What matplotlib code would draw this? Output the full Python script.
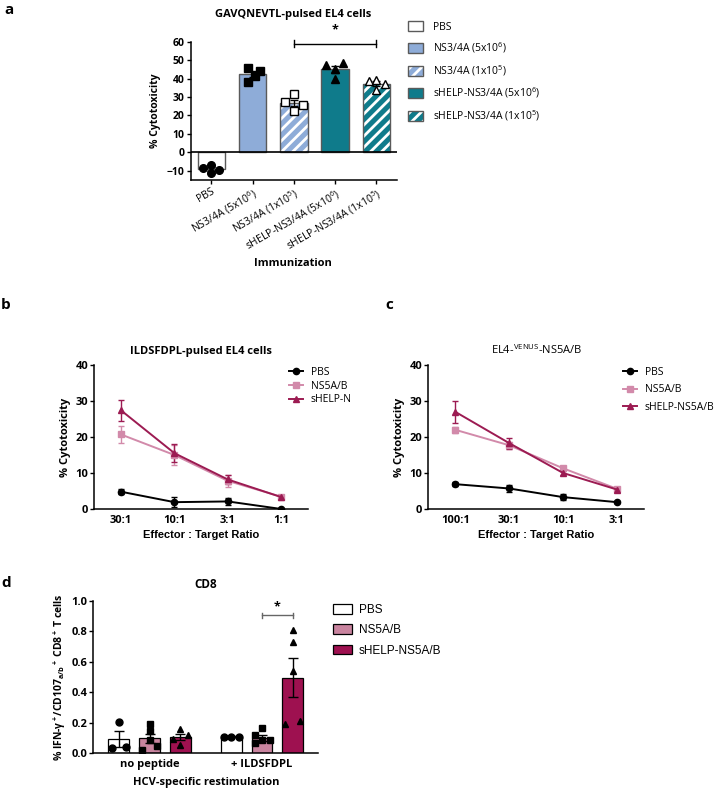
import numpy as np
import matplotlib.pyplot as plt
from matplotlib.patches import Patch
from matplotlib.lines import Line2D

plt.rcParams['font.family'] = ['Open Sans', 'DejaVu Sans']
plt.rcParams['mathtext.fontset'] = 'custom'
plt.rcParams['mathtext.rm'] = 'Open Sans'
plt.rcParams['mathtext.it'] = 'Open Sans:italic'
plt.rcParams['mathtext.bf'] = 'Open Sans:bold'
plt.rcParams['mathtext.default'] = 'regular'
plt.rcParams['hatch.linewidth'] = 2.0

# ---- data: panel a (GAVQNEVTL-pulsed EL4 cells) ----
a_groups = ['PBS', 'NS3/4A (5x10$^6$)', 'NS3/4A (1x10$^5$)',
            'sHELP-NS3/4A (5x10$^6$)', 'sHELP-NS3/4A (1x10$^5$)']
a_means = [-9.2, 42.4, 26.7, 45.1, 37.3]
a_sem = [1.0, 1.5, 1.8, 1.9, 1.2]
a_points = [[-8.7, -6.9, -11.4, -9.6],
            [45.6, 44.3, 41.5, 38.4],
            [31.5, 27.2, 25.7, 22.6],
            [47.1, 48.4, 45.1, 39.7],
            [38.8, 39.3, 37.1, 33.9]]

# ---- data: panel b (ILDSFDPL-pulsed EL4 cells) ----
b_ratios = ['30:1', '10:1', '3:1', '1:1']
b_pbs = [4.8, 1.9, 2.1, 0.0]
b_pbs_err = [0.7, 1.3, 0.9, 0.0]
b_ns5 = [20.7, 15.0, 7.8, 3.4]
b_ns5_err = [2.4, 2.7, 1.7, 0.3]
b_shelp = [27.4, 15.5, 8.2, 3.3]
b_shelp_err = [3.0, 2.5, 1.2, 0.3]

# ---- data: panel c (EL4-VENUS-NS5A/B) ----
c_ratios = ['100:1', '30:1', '10:1', '3:1']
c_pbs = [6.9, 5.7, 3.3, 1.9]
c_pbs_err = [0.6, 1.0, 0.8, 0.2]
c_ns5 = [22.0, 17.7, 11.3, 5.6]
c_ns5_err = [0.9, 1.0, 0.6, 0.5]
c_shelp = [27.0, 18.3, 10.0, 5.4]
c_shelp_err = [3.0, 1.5, 0.6, 0.3]

# ---- data: panel d (CD8) ----
d_groups = ['no peptide', '+ ILDSFDPL']
d_series = ['PBS', 'NS5A/B', 'sHELP-NS5A/B']
d_pbs = [0.094, 0.108]
d_pbs_sem = [0.053, 0.003]
d_ns5 = [0.100, 0.100]
d_ns5_sem = [0.030, 0.020]
d_shelp = [0.107, 0.496]
d_shelp_sem = [0.022, 0.128]
d_pbs_pts = [[0.204, 0.033, 0.044], [0.107, 0.110, 0.107]]
d_ns5_pts = [[0.195, 0.147, 0.022, 0.050, 0.088], [0.164, 0.120, 0.065, 0.090, 0.085]]
d_shelp_pts = [[0.160, 0.120, 0.092, 0.055], [0.81, 0.73, 0.54, 0.19, 0.21]]

W, H = 718, 790
fig = plt.figure(figsize=(W / 100, H / 100), dpi=100)


def box(l, t, r, b):
    return [l / W, 1 - b / H, (r - l) / W, (b - t) / H]


def ftext(x, y, s, **kw):
    fig.text(x / W, 1 - y / H, s, ha=kw.pop('ha', 'center'), va=kw.pop('va', 'center'), **kw)


def style(ax, size=7.5):
    for s in ['top', 'right']:
        ax.spines[s].set_visible(False)
    for s in ['left', 'bottom']:
        ax.spines[s].set_linewidth(1.1)
    ax.tick_params(direction='out', length=3, width=1, labelsize=size, pad=1.5)
    for t in ax.get_yticklabels():
        t.set_fontweight('bold')


# panel labels
ftext(9, 10, 'a', fontsize=11, fontweight='bold')
ftext(6, 305, 'b', fontsize=11, fontweight='bold')
ftext(389, 305, 'c', fontsize=11, fontweight='bold')
ftext(6, 583, 'd', fontsize=11, fontweight='bold')

# ================= panel a =================
ax = fig.add_axes(box(190.7, 41.7, 397, 180))
blue, teal = '#8eacd8', '#0f7b8b'
a_fc = ['white', blue, blue, teal, teal]
a_hatch = [None, None, '///', None, '///']
a_mk = ['o', 's', 's', '^', '^']
a_mfc = ['k', 'k', 'white', 'k', 'white']
a_jit = [[-0.19, 0, 0, 0.19], [-0.1, 0.18, 0.06, -0.1], [0, -0.22, 0.22, 0],
         [-0.23, 0.18, 0, 0], [-0.19, 0, 0.2, 0]]
x = np.arange(len(a_groups))
for i in x:
    ax.bar(i, a_means[i], 0.67, color=a_fc[i], hatch=a_hatch[i],
           edgecolor='white' if a_hatch[i] else 'none', lw=0, zorder=2)
    ax.bar(i, a_means[i], 0.67, fill=False, edgecolor='#5a5a5a', lw=1, zorder=3)
    ax.errorbar(i, a_means[i], yerr=a_sem[i], color='k', capsize=3, lw=1, capthick=1, zorder=4)
    ax.plot(i + np.array(a_jit[i]), a_points[i], a_mk[i], ms=5.5, mfc=a_mfc[i],
            mec='k', mew=1, zorder=5, clip_on=False)
ax.axhline(0, color='k', lw=1.2, zorder=3)
ax.set_xlim(-0.5, 4.5)
ax.set_ylim(-15, 60)
ax.set_yticks(np.arange(-10, 61, 10))
ax.set_xticks(x)
ax.set_xticklabels(a_groups, rotation=30, ha='right', rotation_mode='anchor', fontsize=7.5)
ax.set_ylabel('% Cytotoxicity', fontsize=7.5, fontweight='bold', labelpad=4)
style(ax)
# significance
ax.plot([2, 4], [59, 59], color='k', lw=1, clip_on=False)
ax.plot([2, 2], [57, 61], color='k', lw=1, clip_on=False)
ax.plot([4, 4], [57, 61], color='k', lw=1, clip_on=False)
ax.text(3, 63, '*', ha='center', va='bottom', fontsize=9, fontweight='bold')
ftext(293, 14, 'GAVQNEVTL-pulsed EL4 cells', fontsize=8, fontweight='bold')
ftext(293, 264, 'Immunization', fontsize=8, fontweight='bold')

a_handles = []
for i in x:
    base = Patch(facecolor=a_fc[i], edgecolor='white' if a_hatch[i] else 'none',
                 hatch=a_hatch[i], lw=0)
    edge = Patch(fill=False, edgecolor='#5a5a5a', lw=1)
    a_handles.append((base, edge))
fig.legend(a_handles, a_groups, loc='upper left', bbox_to_anchor=(408 / W, 1 - 21 / H),
           frameon=False, fontsize=7.5, handlelength=1.4, handleheight=1.1,
           handletextpad=1.0, labelspacing=0.75, borderpad=0, borderaxespad=0)

# ================= panels b, c =================
pink, wine = '#d28aaa', '#9c1b52'


def line_panel(rect, ratios, series, errs, labels, title, leg_anchor, leg_space):
    ax = fig.add_axes(rect)
    xx = np.arange(len(ratios))
    cols = ['k', pink, wine]
    mks = ['o', 's', '^']
    for y, e, c, m, lab in zip(series, errs, cols, mks, labels):
        ax.errorbar(xx, y, yerr=e, color=c, marker=m, ms=4.5, lw=1.4, capsize=2.5,
                    capthick=1, elinewidth=1, label=lab, zorder=3)
    ax.set_xlim(-0.5, 3.5)
    ax.set_ylim(0, 40)
    ax.set_yticks([0, 10, 20, 30, 40])
    ax.set_xticks(xx)
    ax.set_xticklabels(ratios)
    style(ax, 8)
    for t in ax.get_xticklabels():
        t.set_fontweight('bold')
    ax.tick_params(axis='x', length=0, pad=4)
    ax.set_ylabel('% Cytotoxicity', fontsize=8, fontweight='bold', labelpad=3)
    ax.set_xlabel('Effector : Target Ratio', fontsize=8, fontweight='bold',
                  family=['Liberation Sans', 'DejaVu Sans'], labelpad=3)
    ax.set_title(title, fontsize=8, fontweight='bold', pad=8)
    h = [Line2D([], [], color=c, marker=m, ms=4.5, lw=1.4) for c, m in zip(cols, mks)]
    fig.legend(h, labels, loc='upper left', bbox_to_anchor=leg_anchor, frameon=False,
               fontsize=7.5, handlelength=1.3, handletextpad=0.8,
               labelspacing=leg_space, borderpad=0, borderaxespad=0)
    return ax


line_panel(box(94.3, 365, 308, 509), b_ratios, [b_pbs, b_ns5, b_shelp],
           [b_pbs_err, b_ns5_err, b_shelp_err], ['PBS', 'NS5A/B', 'sHELP-N'],
           'ILDSFDPL-pulsed EL4 cells', (289 / W, 1 - 367 / H), 0.25)
axc = line_panel(box(428.3, 365, 644, 509), c_ratios, [c_pbs, c_ns5, c_shelp],
                 [c_pbs_err, c_ns5_err, c_shelp_err], ['PBS', 'NS5A/B', 'sHELP-NS5A/B'],
                 'EL4-$^{VENUS}$-NS5A/B', (623 / W, 1 - 367 / H), 0.6)
axc.title.set_fontweight('normal')

# ================= panel d =================
ax = fig.add_axes(box(93.3, 601, 318.3, 753.3))
gx = np.arange(len(d_groups))
off, bw = 0.273, 0.184
d_fc = ['white', '#c9849f', '#9e1150']
d_mk = ['o', 's', '^']
d_vals = [d_pbs, d_ns5, d_shelp]
d_sems = [d_pbs_sem, d_ns5_sem, d_shelp_sem]
d_pts = [d_pbs_pts, d_ns5_pts, d_shelp_pts]
d_jit = [[[0, -0.065, 0.068], [-0.068, 0, 0.065]],
         [[0, 0, -0.065, 0.062, 0], [0, -0.065, -0.06, 0, 0.068]],
         [[0, 0.068, -0.065, 0], [0, 0, 0, -0.068, 0.065]]]
for k in range(3):
    xs = gx + (k - 1) * off
    ax.bar(xs, d_vals[k], bw, color=d_fc[k], edgecolor='k', lw=0.9, zorder=2,
           label=d_series[k])
    ax.errorbar(xs, d_vals[k], yerr=d_sems[k], fmt='none', ecolor='k', capsize=3.5,
                lw=1, capthick=1, zorder=3)
    for g in gx:
        ax.plot(xs[g] + np.array(d_jit[k][g]), d_pts[k][g], d_mk[k], color='k',
                ms=5, zorder=4)
ax.set_xlim(-0.5, 1.5)
ax.set_ylim(0, 1.0)
ax.set_yticks(np.arange(0, 1.01, 0.2))
ax.set_yticklabels(['%.1f' % v for v in np.arange(0, 1.01, 0.2)])
ax.set_xticks(gx)
ax.set_xticklabels(d_groups)
style(ax, 8)
for t in ax.get_xticklabels():
    t.set_fontweight('bold')
ax.tick_params(axis='x', length=0, pad=4)
ax.set_ylabel('% IFN-γ$^+$/CD107$_{a/b}$$^+$ CD8$^+$ T cells', fontsize=7.5,
              fontweight='bold', labelpad=2)
ax.set_xlabel('HCV-specific restimulation', fontsize=8, fontweight='bold', labelpad=5)
ax.set_title('CD8', fontsize=8.5, fontweight='bold', pad=9)
# significance
x1, x2 = 1, 1 + off
ax.plot([x1, x2], [0.905, 0.905], color='#666666', lw=1)
ax.plot([x1, x1], [0.89, 0.92], color='#666666', lw=1)
ax.plot([x2, x2], [0.89, 0.92], color='#666666', lw=1)
ax.text((x1 + x2) / 2, 0.92, '*', ha='center', va='bottom', fontsize=9, fontweight='bold')
d_handles = [Patch(facecolor=c, edgecolor='k', lw=0.9) for c in d_fc]
fig.legend(d_handles, d_series, loc='upper left', bbox_to_anchor=(333 / W, 1 - 604 / H),
           frameon=False, prop={'family': ['Liberation Sans', 'DejaVu Sans'], 'size': 8.5},
           handlelength=1.6, handleheight=0.9, handletextpad=0.6, labelspacing=0.7,
           borderpad=0, borderaxespad=0)

fig.savefig('out.png', dpi=100)
